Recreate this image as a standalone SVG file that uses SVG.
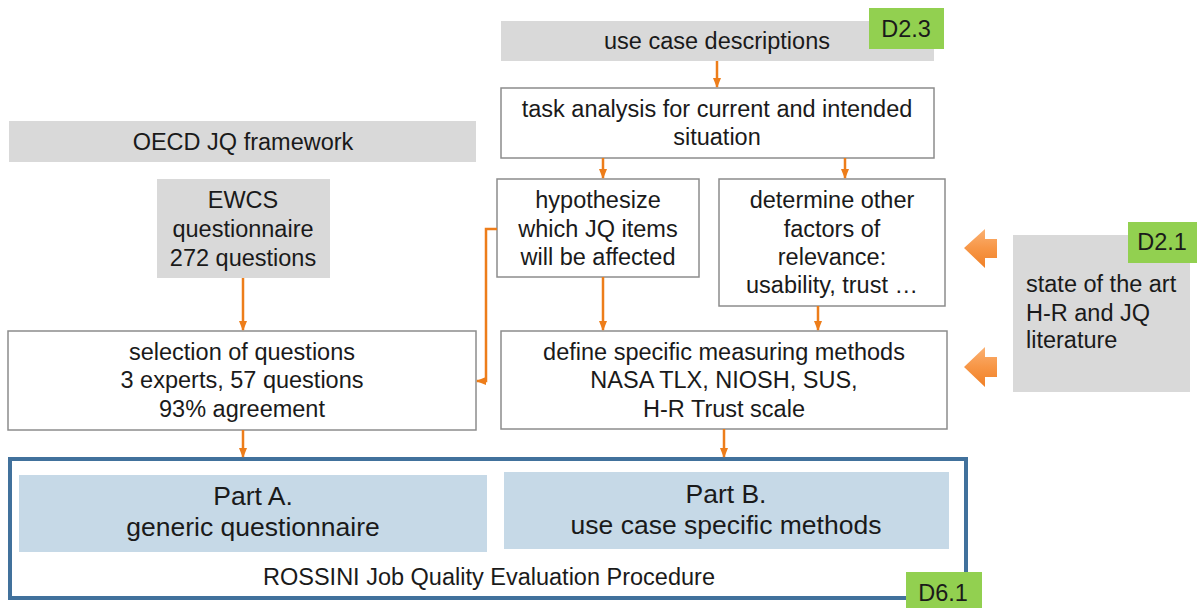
<svg xmlns="http://www.w3.org/2000/svg" width="1197" height="608" viewBox="0 0 1197 608">
<defs>
<style>
text{font-family:"Liberation Sans",Arial,sans-serif;fill:#1a1a1a;text-anchor:middle}
.t20{font-size:23.5px}
.t22{font-size:26.5px}
.t18{font-size:23.5px}
.gray{fill:#d9d9d9}
.box{fill:#fff;stroke:#8c8c8c;stroke-width:1.5}
.green{fill:#92d050}
.part{fill:#c6d9e7}
.con{fill:none;stroke:#ed7d1a;stroke-width:2.5}
</style>
<marker id="ah" markerWidth="10" markerHeight="8" refX="9" refY="4" orient="auto" markerUnits="userSpaceOnUse">
<path d="M0,0 L10,4 L0,8 z" fill="#ed7d1a"/>
</marker>
<linearGradient id="og" x1="0" y1="0" x2="0" y2="1">
<stop offset="0" stop-color="#fbb173"/>
<stop offset="0.5" stop-color="#f79646"/>
<stop offset="1" stop-color="#f08026"/>
</linearGradient>
</defs>
<rect width="1197" height="608" fill="#fff"/>

<g id="use-case-descriptions">
<rect class="gray" x="501" y="21" width="433" height="40"/>
<text class="t20" x="717" y="49">use case descriptions</text>
</g>
<g id="d23">
<rect class="green" x="869" y="8" width="75" height="41"/>
<text class="t20" x="906" y="37">D2.3</text>
</g>
<g id="task-analysis">
<rect class="box" x="501" y="88" width="433" height="70"/>
<text class="t20" x="717" y="117">task analysis for current and intended</text>
<text class="t20" x="717" y="145">situation</text>
</g>
<g id="hypothesize">
<rect class="box" x="497" y="179" width="202" height="98"/>
<text class="t20" x="598" y="208">hypothesize</text>
<text class="t20" x="598" y="237">which JQ items</text>
<text class="t20" x="598" y="265">will be affected</text>
</g>
<g id="determine">
<rect class="box" x="719" y="179" width="226" height="127"/>
<text class="t20" x="832" y="208">determine other</text>
<text class="t20" x="832" y="237">factors of</text>
<text class="t20" x="832" y="265">relevance:</text>
<text class="t20" x="832" y="293">usability, trust …</text>
</g>
<g id="define">
<rect class="box" x="501" y="331" width="446" height="98"/>
<text class="t20" x="724" y="360">define specific measuring methods</text>
<text class="t20" x="724" y="388">NASA TLX, NIOSH, SUS,</text>
<text class="t20" x="724" y="417">H-R Trust scale</text>
</g>
<g id="oecd">
<rect class="gray" x="9" y="121" width="467" height="41"/>
<text class="t20" x="243" y="150">OECD JQ framework</text>
</g>
<g id="ewcs">
<rect class="gray" x="157" y="179" width="173" height="99"/>
<text class="t20" x="243" y="208">EWCS</text>
<text class="t20" x="243" y="237">questionnaire</text>
<text class="t20" x="243" y="266">272 questions</text>
</g>
<g id="selection">
<rect class="box" x="8" y="331" width="468" height="99"/>
<text class="t20" x="242" y="360">selection of questions</text>
<text class="t20" x="242" y="388">3 experts, 57 questions</text>
<text class="t20" x="242" y="417">93% agreement</text>
</g>
<g id="state-of-art">
<rect class="gray" x="1013" y="235" width="177" height="157"/>
<text class="t20" x="1026" y="292" style="text-anchor:start">state of the art</text>
<text class="t20" x="1026" y="321" style="text-anchor:start">H-R and JQ</text>
<text class="t20" x="1026" y="348" style="text-anchor:start">literature</text>
</g>
<g id="d21">
<rect class="green" x="1128" y="222" width="69" height="41"/>
<text class="t20" x="1162" y="250">D2.1</text>
</g>
<g id="block-arrow-1">
<path d="M964,248 L985,229 L985,239 L997,239 L997,258 L985,258 L985,268 z" fill="url(#og)"/>
</g>
<g id="block-arrow-2">
<path d="M964,367 L985,347 L985,357 L997,357 L997,377 L985,377 L985,387 z" fill="url(#og)"/>
</g>
<g id="rossini">
<rect x="10" y="459" width="956" height="139" fill="#fff" stroke="#41719c" stroke-width="4"/>
<rect class="part" x="19" y="475" width="468" height="77"/>
<text class="t22" x="253" y="505">Part A.</text>
<text class="t22" x="253" y="536">generic questionnaire</text>
<rect class="part" x="504" y="472" width="445" height="77"/>
<text class="t22" x="726" y="503">Part B.</text>
<text class="t22" x="726" y="534">use case specific methods</text>
<text class="t18" x="489" y="585">ROSSINI Job Quality Evaluation Procedure</text>
</g>
<g id="d61">
<rect class="green" x="906" y="572" width="76" height="36"/>
<text class="t20" x="943" y="601">D6.1</text>
</g>
<g id="connectors">
<line class="con" x1="717" y1="61" x2="717" y2="87" marker-end="url(#ah)"/>
<line class="con" x1="603" y1="158" x2="603" y2="178" marker-end="url(#ah)"/>
<line class="con" x1="845" y1="158" x2="845" y2="178" marker-end="url(#ah)"/>
<line class="con" x1="603" y1="277" x2="603" y2="330" marker-end="url(#ah)"/>
<line class="con" x1="818" y1="306" x2="818" y2="330" marker-end="url(#ah)"/>
<line class="con" x1="724" y1="429" x2="724" y2="457" marker-end="url(#ah)"/>
<line class="con" x1="243" y1="278" x2="243" y2="330" marker-end="url(#ah)"/>
<line class="con" x1="243" y1="430" x2="243" y2="457" marker-end="url(#ah)"/>
<polyline class="con" points="497,229 486,229 486,381 477,381" marker-end="url(#ah)"/>
</g>
</svg>
